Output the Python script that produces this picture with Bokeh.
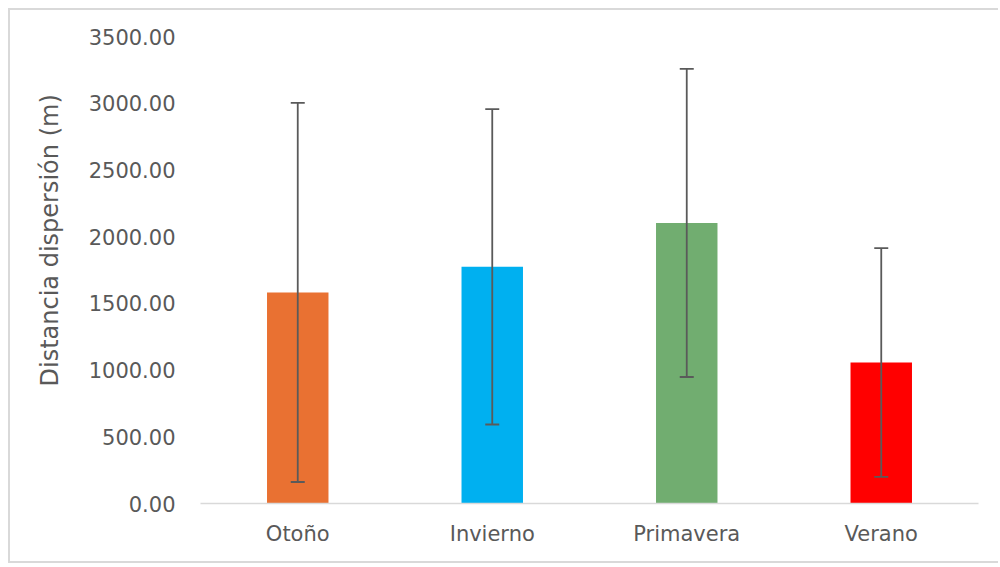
from bokeh.plotting import figure
from bokeh.models import ColumnDataSource, Whisker, TeeHead, FixedTicker, PrintfTickFormatter, Title
from bokeh.embed import file_html
from bokeh.resources import INLINE

seasons = ["Otoño", "Invierno", "Primavera", "Verano"]
means = [1582, 1774, 2103, 1057]
sds = [1421, 1182, 1155, 857]
colors = ["#E97132", "#00B0F0", "#71AD70", "#FF0000"]
y_ticks = [0, 500, 1000, 1500, 2000, 2500, 3000, 3500]
y_title = "Distancia dispersión (m)"

src = ColumnDataSource(dict(
    x=seasons, top=means, color=colors,
    upper=[m + s for m, s in zip(means, sds)],
    lower=[m - s for m, s in zip(means, sds)],
))

FONT = "DejaVu Sans"
TXT = "#595959"

p = figure(x_range=seasons, y_range=(0, 3500), width=990, height=555,
           output_backend="svg", toolbar_location=None,
           min_border_left=190, min_border_right=22, min_border_top=26, min_border_bottom=62)
p.styles = {"border-left": "2px solid #d9d9d9", "border-top": "2px solid #d9d9d9",
            "border-bottom": "2px solid #d9d9d9", "margin-left": "8px", "margin-top": "8px"}
p.outline_line_color = None
p.grid.visible = False

p.vbar(x="x", top="top", width=0.316, fill_color="color", line_color=None, source=src)

w = Whisker(base="x", upper="upper", lower="lower", source=src, level="annotation",
            line_color="#5a5a5a", line_width=1.8,
            upper_head=TeeHead(size=14, line_color="#5a5a5a", line_width=1.8),
            lower_head=TeeHead(size=14, line_color="#5a5a5a", line_width=1.8))
p.add_layout(w)

ya = p.yaxis[0]
ya.ticker = FixedTicker(ticks=y_ticks)
ya.formatter = PrintfTickFormatter(format="%.2f")
ya.axis_line_color = None
ya.major_tick_line_color = None
ya.minor_tick_line_color = None
ya.major_label_standoff = 19
ya.major_label_text_font = FONT
ya.major_label_text_font_size = "21px"
ya.major_label_text_color = TXT

p.add_layout(Title(text=y_title, align="left", offset=117, standoff=44,
                   text_font=FONT, text_font_size="24px", text_font_style="normal",
                   text_color=TXT), "left")

xa = p.xaxis[0]
xa.axis_line_color = "#d9d9d9"
xa.axis_line_width = 1.5
xa.major_tick_line_color = None
xa.minor_tick_line_color = None
xa.major_label_standoff = 12
xa.major_label_text_font = FONT
xa.major_label_text_font_size = "21px"
xa.major_label_text_color = TXT

open("out.html", "w").write(file_html(p, INLINE))
